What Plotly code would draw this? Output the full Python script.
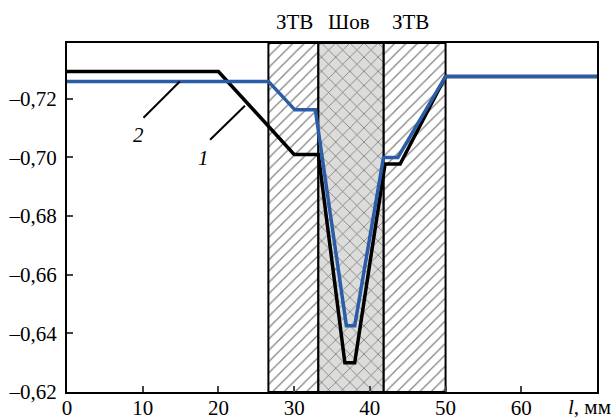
import plotly.graph_objects as go

# Curve 1 (black)
x1 = [0, 20, 30, 33.2, 36.7, 38.0, 42.0, 44.0, 50, 70]
y1 = [-0.7293, -0.7293, -0.7010, -0.7010, -0.6300, -0.6300, -0.6977, -0.6977, -0.7276, -0.7276]
# Curve 2 (blue)
x2 = [0, 26.6, 30.1, 32.8, 36.9, 38.0, 41.8, 43.7, 50, 70]
y2 = [-0.7259, -0.7259, -0.7162, -0.7162, -0.6426, -0.6426, -0.7000, -0.7000, -0.7276, -0.7276]

# Zones (mm)
haz_left = [26.6, 33.2]
seam = [33.2, 41.8]
haz_right = [41.8, 50.0]
zone_labels = ["ЗТВ", "Шов", "ЗТВ"]

y_top, y_bot = -0.739, -0.62
yticks = [-0.72, -0.70, -0.68, -0.66, -0.64, -0.62]
ytext = ["–0,72", "–0,70", "–0,68", "–0,66", "–0,64", "–0,62"]
xticks = [0, 10, 20, 30, 40, 50, 60]

FONT = "Liberation Serif, Times New Roman, serif"
FS = 21

fig = go.Figure()

def zone(rng, shape, bg, size, sol):
    a, b = rng
    fig.add_trace(go.Scatter(
        x=[a, a, b, b, a], y=[y_bot, y_top, y_top, y_bot, y_bot],
        mode="lines", fill="toself", line=dict(color="black", width=2),
        fillcolor=bg,
        fillpattern=dict(shape=shape, fgcolor="black", bgcolor=bg, size=size, solidity=sol),
        hoverinfo="skip", showlegend=False))

zone(haz_left, "/", "white", 8, 0.15)
zone(haz_right, "/", "white", 8, 0.15)
zone(seam, "x", "#dcdddb", 10, 0.14)

fig.add_trace(go.Scatter(x=x1, y=y1, mode="lines", line=dict(color="black", width=3.5),
                         showlegend=False))
fig.add_trace(go.Scatter(x=x2, y=y2, mode="lines", line=dict(color="#2b5ca8", width=3.5),
                         showlegend=False))

# leader lines for curve labels
fig.add_trace(go.Scatter(x=[10.1, 14.9], y=[-0.7135, -0.7259], mode="lines",
                         line=dict(color="black", width=2), showlegend=False))
fig.add_trace(go.Scatter(x=[18.9, 23.5], y=[-0.7060, -0.7176], mode="lines",
                         line=dict(color="black", width=2), showlegend=False))

ann = [
    dict(x=9.4, y=-0.7077, text="<i>2</i>", xref="x", yref="y"),
    dict(x=18.0, y=-0.6999, text="<i>1</i>", xref="x", yref="y"),
    dict(x=sum(haz_left) / 2 + 0.1, y=1.0, yshift=21, text=zone_labels[0], xref="x", yref="paper"),
    dict(x=sum(seam) / 2 - 0.3, y=1.0, yshift=21, text=zone_labels[1], xref="x", yref="paper"),
    dict(x=sum(haz_right) / 2 - 0.5, y=1.0, yshift=21, text=zone_labels[2], xref="x", yref="paper"),
    dict(x=-1.9, y=1.0, yshift=21, text="<i>E</i>, В", xref="x", yref="paper", xanchor="left"),
    dict(x=69.0, y=0.0, yshift=-15, text="<i>l</i>, мм", xref="x", yref="paper", xanchor="center"),
]
for a in ann:
    a.update(showarrow=False, font=dict(family=FONT, size=FS, color="black"), yanchor="middle")
    a.setdefault("xanchor", "center")
    fig.add_annotation(**a)

fig.update_layout(
    width=613, height=420,
    margin=dict(l=67, r=16, t=43, b=28, autoexpand=False),
    paper_bgcolor="white", plot_bgcolor="white",
    font=dict(family=FONT, size=FS, color="black"),
    xaxis=dict(range=[0, 70], tickvals=xticks, ticks="inside", ticklen=6, tickwidth=2,
               showline=True, linecolor="black", linewidth=2, mirror=True,
               showgrid=False, zeroline=False, tickfont=dict(size=FS), automargin=False,
               ticklabelstandoff=-4),
    yaxis=dict(range=[y_bot, y_top], tickvals=yticks, ticktext=ytext, ticks="inside",
               ticklen=6, tickwidth=2, showline=True, linecolor="black", linewidth=2,
               mirror=True, showgrid=False, zeroline=False, tickfont=dict(size=FS),
               ticklabelstandoff=4, automargin=False),
)

fig.write_html("out.html", config={"displayModeBar": False},
               post_script="document.body.style.margin='0';")
